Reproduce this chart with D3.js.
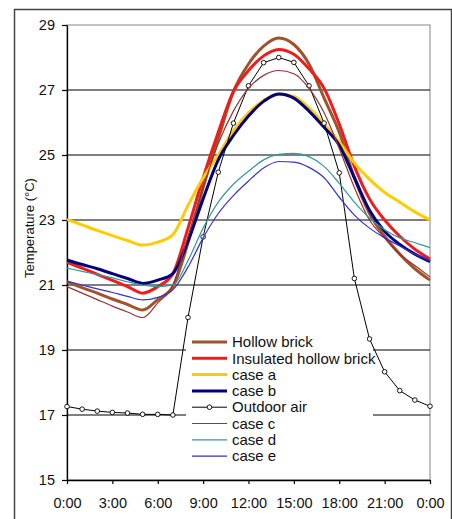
<!DOCTYPE html>
<html>
<head>
<meta charset="utf-8">
<script src="https://cdn.jsdelivr.net/npm/d3@7"></script>
<style>
  body { margin: 0; background: #fff; }
  text { font-family: "Liberation Sans", Arial, sans-serif; fill: #111; }
</style>
</head>
<body>
<script>
// heures de la journée (0 -> 24)
const hours = [0, 1, 2, 3, 4, 5, 6, 7, 8, 9, 10, 11, 12, 13, 14, 15, 16, 17, 18, 19, 20, 21, 22, 23, 24];
const xTicks = [0, 3, 6, 9, 12, 15, 18, 21, 24];
const xTickLabels = ["0:00", "3:00", "6:00", "9:00", "12:00", "15:00", "18:00", "21:00", "0:00"];
const yTicks = [15, 17, 19, 21, 23, 25, 27, 29];

// températures (°C)
const hollowBrick = [21.1, 20.92, 20.75, 20.57, 20.4, 20.23, 20.55, 20.95, 22.3, 24.0, 25.5, 26.95, 27.8, 28.35, 28.6, 28.4, 27.8, 26.75, 25.7, 24.3, 23.2, 22.5, 21.95, 21.5, 21.15];
const insulatedBrick = [21.7, 21.52, 21.33, 21.14, 20.95, 20.75, 20.95, 21.35, 22.75, 24.3, 25.7, 26.95, 27.6, 28.05, 28.25, 28.1, 27.65, 27.05, 25.95, 24.65, 23.65, 23.0, 22.5, 22.1, 21.8];
const caseA = [23.02, 22.85, 22.68, 22.52, 22.37, 22.23, 22.32, 22.55, 23.45, 24.3, 25.0, 25.75, 26.3, 26.68, 26.88, 26.8, 26.45, 25.95, 25.4, 24.75, 24.25, 23.85, 23.55, 23.25, 23.0];
const caseB = [21.77, 21.63, 21.5, 21.35, 21.2, 21.05, 21.15, 21.35, 22.35, 23.65, 24.85, 25.6, 26.2, 26.65, 26.88, 26.75, 26.35, 25.85, 25.3, 24.3, 23.3, 22.65, 22.25, 21.95, 21.72];
const outdoorAir = [17.26, 17.18, 17.12, 17.08, 17.06, 17.02, 17.02, 17.0, 20.0, 22.48, 24.47, 25.98, 27.13, 27.84, 28.0, 27.85, 27.13, 25.98, 24.45, 21.2, 19.34, 18.33, 17.75, 17.46, 17.27];
const caseC = [20.95, 20.75, 20.55, 20.35, 20.17, 20.0, 20.45, 21.0, 22.5, 24.0, 25.35, 26.35, 27.05, 27.45, 27.6, 27.5, 27.05, 26.3, 25.2, 24.0, 23.0, 22.45, 21.95, 21.6, 21.25];
const caseD = [21.52, 21.42, 21.32, 21.22, 21.1, 21.0, 20.95, 21.0, 21.75, 22.75, 23.55, 24.1, 24.5, 24.85, 25.02, 25.05, 24.95, 24.65, 24.13, 23.55, 23.06, 22.7, 22.45, 22.3, 22.15];
const caseE = [21.12, 21.0, 20.88, 20.77, 20.65, 20.54, 20.62, 20.85, 21.55, 22.45, 23.2, 23.75, 24.2, 24.6, 24.8, 24.78, 24.62, 24.3, 23.7, 23.15, 22.75, 22.45, 22.2, 21.95, 21.75];

const series = [
    { name: "Hollow brick", values: hollowBrick, color: "#A0522D", width: 3 },
    { name: "Insulated hollow brick", values: insulatedBrick, color: "#EE1C1C", width: 3 },
    { name: "case a", values: caseA, color: "#FFCC00", width: 3 },
    { name: "case b", values: caseB, color: "#000080", width: 3 },
    { name: "Outdoor air", values: outdoorAir, color: "#000000", width: 1, markers: true },
    { name: "case c", values: caseC, color: "#993333", width: 1.2 },
    { name: "case d", values: caseD, color: "#33999A", width: 1.2 },
    { name: "case e", values: caseE, color: "#3333CC", width: 1.2 }
];

const width = 452, height = 519;
const margin = { top: 25, right: 22, bottom: 39, left: 67 };

const svg = d3.select("body").append("svg")
    .attr("width", width)
    .attr("height", height);

// cadre extérieur
svg.append("rect")
    .attr("x", 14.5).attr("y", 9.5)
    .attr("width", 437).attr("height", 530)
    .attr("fill", "none")
    .attr("stroke", "#444")
    .attr("stroke-width", 1.5);

const xScale = d3.scaleLinear()
    .domain([0, 24])
    .range([margin.left, width - margin.right]);

const yScale = d3.scaleLinear()
    .domain([15, 29])
    .range([height - margin.bottom, margin.top]);

// bordure de la zone de tracé (grise)
svg.append("rect")
    .attr("x", xScale(0)).attr("y", yScale(29))
    .attr("width", xScale(24) - xScale(0))
    .attr("height", yScale(15) - yScale(29))
    .attr("fill", "none")
    .attr("stroke", "#9a9a9a")
    .attr("stroke-width", 1.2);

// lignes de grille
svg.append("g")
    .selectAll("line")
    .data(yTicks.filter(d => d > 15 && d < 29))
    .enter().append("line")
    .attr("x1", xScale(0))
    .attr("x2", xScale(24))
    .attr("y1", d => yScale(d))
    .attr("y2", d => yScale(d))
    .attr("stroke", "#000")
    .attr("stroke-width", 1.2);

// axes
const yAxis = svg.append("g")
    .attr("transform", `translate(${xScale(0)},0)`)
    .call(d3.axisLeft(yScale).tickValues(yTicks).tickSize(5).tickSizeOuter(0).tickPadding(7));

const xAxis = svg.append("g")
    .attr("transform", `translate(0,${yScale(15)})`)
    .call(d3.axisBottom(xScale).tickValues(xTicks).tickSize(4).tickSizeOuter(0).tickPadding(14)
        .tickFormat((d, i) => xTickLabels[i]));

[yAxis, xAxis].forEach(a => {
    a.select(".domain").attr("stroke", "#000").attr("stroke-width", 1.3);
    a.selectAll(".tick line").attr("stroke", "#000").attr("stroke-width", 1.2);
    a.selectAll("text").style("font-size", "14.5px").attr("fill", "#111");
});

// titre de l'axe Y
svg.append("text")
    .attr("transform", "translate(34,228) rotate(-90)")
    .attr("text-anchor", "middle")
    .style("font-size", "13px")
    .text("Temperature (°C)");

// courbes
const smooth = d3.line()
    .x((d, i) => xScale(hours[i]))
    .y(d => yScale(d))
    .curve(d3.curveMonotoneX);

const straight = d3.line()
    .x((d, i) => xScale(hours[i]))
    .y(d => yScale(d));

// légende : fond blanc posé sous la courbe extérieure à droite
const legend = svg.append("g");
legend.append("rect")
    .attr("x", 186).attr("y", 333)
    .attr("width", 187).attr("height", 133)
    .attr("fill", "#fff");

series.forEach(s => {
    svg.append("path")
        .datum(s.values)
        .attr("d", s.markers ? straight : smooth)
        .attr("fill", "none")
        .attr("stroke", s.color)
        .attr("stroke-width", s.width)
        .attr("stroke-linejoin", "round");

    if (s.markers) {
        svg.append("g")
            .selectAll("circle")
            .data(s.values)
            .enter().append("circle")
            .attr("cx", (d, i) => xScale(hours[i]))
            .attr("cy", d => yScale(d))
            .attr("r", 2.3)
            .attr("fill", "#fff")
            .attr("stroke", "#000")
            .attr("stroke-width", 0.9);
    }
});

// re-masquer le bas de la zone de légende (les courbes ne passent pas dessous sauf l'air extérieur)
const legendItems = svg.append("g");
legendItems.append("rect")
    .attr("x", 186).attr("y", 333)
    .attr("width", 181).attr("height", 133)
    .attr("fill", "#fff");

const rowY = i => 342 + i * 16.3;

series.forEach((s, i) => {
    legendItems.append("line")
        .attr("x1", 192).attr("x2", 227)
        .attr("y1", rowY(i)).attr("y2", rowY(i))
        .attr("stroke", s.color)
        .attr("stroke-width", s.width);
    if (s.markers) {
        legendItems.append("circle")
            .attr("cx", 209.5).attr("cy", rowY(i))
            .attr("r", 2.3)
            .attr("fill", "#fff")
            .attr("stroke", "#000")
            .attr("stroke-width", 0.9);
    }
    legendItems.append("text")
        .attr("x", 232)
        .attr("y", rowY(i))
        .attr("dy", "0.35em")
        .style("font-size", "15px")
        .text(s.name);
});
</script>
</body>
</html>
